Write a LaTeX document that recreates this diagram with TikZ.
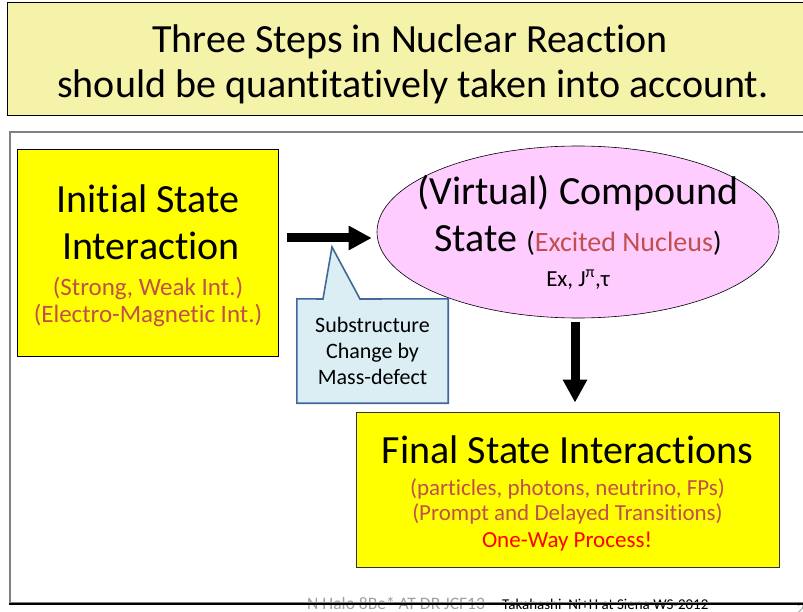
\documentclass[tikz,border=0pt]{standalone}
\usepackage{fontspec}
\setmainfont{Carlito}[Ligatures={NoCommon}]
\usetikzlibrary{arrows.meta,shapes.geometric}
\definecolor{titlefill}{HTML}{F5F2A9}
\definecolor{boxyellow}{HTML}{FFFF00}
\definecolor{pinkfill}{HTML}{FFCCFF}
\definecolor{subred}{HTML}{C0504D}
\definecolor{callfill}{HTML}{DBEEF4}
\definecolor{callline}{HTML}{41689A}
\definecolor{framegray}{HTML}{808080}
\definecolor{footgray}{HTML}{A0A0A0}
\begin{document}
\begin{tikzpicture}[x=1pt,y=-1pt,inner sep=0pt,
  bigtxt/.style={font=\fontsize{40}{48}\selectfont, anchor=base},
  subtxt/.style={font=\fontsize{23}{28}\selectfont, anchor=base, text=subred},
  calltxt/.style={font=\fontsize{22}{26}\selectfont, anchor=base},
  bigarrow/.style={line width=9pt, -{Triangle[length=23pt,width=23pt]}},
  ybox/.style={draw=black, line width=0.8pt, fill=boxyellow}]
\clip (0,0) rectangle (803,612);
% title
\node[draw=black, line width=0.8pt, fill=titlefill, minimum width=823pt, minimum height=113pt] (title) at (418.5,58.5) {};
\node[font=\fontsize{40}{48}\selectfont, anchor=base] (tl1) at (410,53) {Three Steps in Nuclear Reaction};
\node[font=\fontsize{40}{48}\selectfont, anchor=base] (tl2) at (413,98) {should be quantitatively taken into account.};
% initial state box
\node[ybox, minimum width=261pt, minimum height=207pt] (init) at (147.5,252.5) {};
\node[bigtxt] (i1) at (148,213) {Initial State};
\node[bigtxt] (i2) at (151,260) {Interaction};
\node[subtxt, font=\fontsize{25}{30}\selectfont] (i3) at (148,295) {(Strong, Weak Int.)};
\node[subtxt, font=\fontsize{25}{30}\selectfont] (i4) at (148,323) {(Electro-Magnetic Int.)};
% compound ellipse
\node[draw=black, line width=0.6pt, ellipse, fill=pinkfill, minimum width=402pt, minimum height=172pt] (comp) at (578,232) {};
\node[bigtxt] (c1) at (578,205) {(Virtual) Compound};
\node[bigtxt] (c2) at (578,252) {State {\fontsize{28}{30}\selectfont(\textcolor{subred}{Excited Nucleus})}};
\node[font=\fontsize{23}{26}\selectfont, anchor=base] (c3) at (578,287) {Ex, J\textsuperscript{π},τ};
% final box
\node[draw=black!80, line width=0.8pt, fill=boxyellow, minimum width=423pt, minimum height=155pt] (fin) at (567.5,489.5) {};
\node[bigtxt] (f1) at (567.5,463) {Final State Interactions};
\node[subtxt] (f2) at (567.5,495) {(particles, photons, neutrino, FPs)};
\node[subtxt] (f3) at (567.5,520) {(Prompt and Delayed Transitions)};
\node[subtxt, text=red] (f4) at (567,547) {One-Way Process!};
% arrows
\draw[bigarrow] ([shift={(9,-14.5)}]init.east) coordinate (a1) -- ([xshift=-5pt]a1 -| comp.west);
\draw[bigarrow] ([shift={(-3,4)}]comp.south) coordinate (a2) -- ([yshift=9pt]a2 |- fin.north);
% callout
\node[minimum width=151pt, minimum height=104pt] (sub) at (372.5,351) {};
\coordinate (tip) at (332,247);
\draw[callline, line width=1.6pt, fill=callfill, line join=miter]
  (sub.north west) -- (323,299) -- (tip) -- (360,299) -- (sub.north east)
  -- (sub.south east) -- (sub.south west) -- cycle;
\node[calltxt] (s1) at (372.5,332) {Substructure};
\node[calltxt] (s2) at (372.5,358) {Change by};
\node[calltxt] (s3) at (372.5,384) {Mass-defect};
% footer
\node[font=\fontsize{17.5}{20}\selectfont, text=footgray, anchor=base west] (ft1) at (307,609.5) {N Halo 8Be* AT-DR JCF13};
\node[font=\fontsize{15}{18}\selectfont, anchor=base west] (ft2) at (502,609.5) {Takahashi\ \ Ni+H at Siena WS-2012};
\node[font=\fontsize{15}{16}\selectfont, text=footgray, anchor=base west] (ft3) at (797,613) {2};
% frame
\node[draw=framegray, line width=2pt, minimum width=820pt, minimum height=471pt] (frame) at (420,367.5) {};
\draw[line width=1.4pt] (frame.south west) -- (frame.south east);
\end{tikzpicture}
\end{document}
